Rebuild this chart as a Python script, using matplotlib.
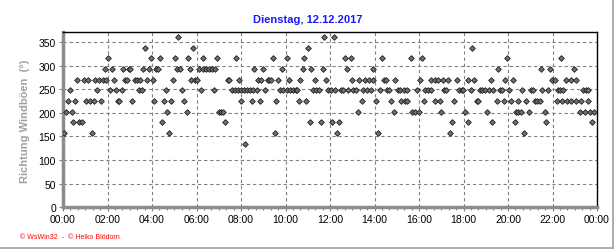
import matplotlib.pyplot as plt
from matplotlib.ticker import MultipleLocator
from matplotlib.lines import Line2D

t_360 = [5.18, 11.74, 12.19]
t_337 = [3.70, 5.86, 11.02, 18.40]
t_315 = [2.04, 3.97, 4.37, 5.05, 5.62, 6.31, 6.92, 7.79, 9.45, 10.07, 10.84,
         12.67, 12.93, 14.35, 15.65, 16.15, 19.97, 22.40]
t_292 = [1.90, 2.22, 2.71, 2.98, 3.01, 3.60, 3.88, 4.19, 4.27, 5.14, 5.26, 5.72,
         6.11, 6.29, 6.43, 6.56, 6.70, 6.84, 8.60, 9.00, 9.86, 10.80, 11.16,
         11.70, 12.78, 13.92, 19.56, 21.47, 21.90, 22.97]
t_270 = [0.64, 0.94, 1.14, 1.45, 1.63, 1.78, 1.92, 2.31, 2.80, 2.89, 3.22, 3.34,
         3.47, 3.78, 4.06, 4.96, 5.77, 5.92, 6.04, 7.40, 7.47, 7.92, 8.78, 8.90,
         9.20, 9.27, 9.35, 9.68, 10.17, 10.67, 11.34, 11.83, 13.00, 13.32, 13.59,
         13.77, 13.95, 14.41, 14.52, 14.93, 16.06, 16.55, 16.71, 16.85, 17.07,
         17.30, 17.72, 18.19, 18.49, 19.25, 19.87, 20.24, 21.98, 22.10, 22.62,
         22.82, 23.07]
t_247 = [0.33, 1.54, 2.13, 2.38, 2.64, 3.42, 3.55, 4.64, 5.36, 6.22, 6.79, 7.60,
         7.73, 7.87, 8.00, 8.13, 8.27, 8.40, 8.54, 8.71, 9.09, 9.75, 9.87, 10.05,
         10.20, 10.35, 10.46, 10.53, 11.24, 11.38, 11.51, 11.92, 12.03, 12.24,
         12.48, 12.60, 12.82, 13.05, 13.18, 13.48, 13.65, 13.83, 14.26, 14.56,
         14.64, 15.06, 15.16, 15.31, 15.46, 15.91, 16.28, 16.40, 16.55, 17.11,
         17.21, 17.81, 17.92, 17.99, 18.32, 18.74, 18.84, 18.97, 19.16, 19.34,
         19.64, 19.74, 20.03, 20.63, 21.03, 21.12, 21.53, 21.80, 22.25, 22.35,
         22.47, 23.37, 23.49, 23.60]
t_225 = [0.24, 0.55, 1.05, 1.23, 1.41, 1.72, 2.49, 2.53, 3.11, 4.10, 4.55, 4.87,
         5.45, 8.01, 8.49, 8.87, 9.59, 10.61, 10.93, 13.42, 14.07, 14.76, 15.20,
         15.36, 15.47, 16.22, 16.73, 16.93, 17.59, 18.59, 18.67, 19.49, 19.82,
         20.13, 20.44, 20.81, 21.23, 21.32, 21.42, 22.22, 22.44, 22.65, 22.84,
         23.07, 23.29, 23.60]
t_202 = [0.13, 0.39, 4.69, 5.56, 7.01, 7.10, 7.19, 13.27, 14.86, 15.69, 15.81,
         15.99, 17.00, 18.07, 19.07, 20.35, 20.46, 20.57, 20.93, 21.65, 23.22,
         23.45, 23.67, 23.85]
t_180 = [0.46, 0.73, 0.84, 4.46, 7.29, 11.11, 11.61, 12.08, 12.42, 17.46, 18.22,
         19.29, 20.33, 21.72, 23.79]
t_157 = [0.04, 1.32, 4.78, 9.54, 12.33, 14.16, 17.39, 20.73]
t_135 = [8.19]

stufen = [360, 337.5, 315, 292.5, 270, 247.5, 225, 202.5, 180, 157.5, 135]
zeiten = [t_360, t_337, t_315, t_292, t_270, t_247, t_225, t_202, t_180, t_157, t_135]

x_ticks = list(range(0, 25, 2))
x_labels = ['%02d:00' % (h % 24) for h in x_ticks]

plt.rcParams['font.family'] = ['Liberation Sans', 'DejaVu Sans']

fig = plt.figure(figsize=(6.16, 2.53), dpi=100)
ax = fig.add_axes([0.1023, 0.1767, 0.8669, 0.6909])

for wert, tl in zip(stufen, zeiten):
    ax.plot(tl, [wert] * len(tl), linestyle='none', marker='D', markersize=2.9,
            markerfacecolor='#707070', markeredgecolor='#202020',
            markeredgewidth=0.6, zorder=3)

ax.set_xlim(0, 24)
ax.set_ylim(0, 370)
ax.set_xticks(x_ticks)
ax.set_xticklabels(x_labels)
ax.xaxis.set_minor_locator(MultipleLocator(1 / 3))
ax.yaxis.set_major_locator(MultipleLocator(50))

ax.grid(True, which='major', color='#808080', linestyle=(0, (3, 2.5)), linewidth=0.8)
ax.tick_params(axis='both', which='major', labelsize=7.5, length=3, width=0.8,
               color='#808080', pad=2)
ax.tick_params(axis='x', which='minor', length=2, width=0.8, color='#808080')

ax.spines['left'].set_color('#8c8c8c')
ax.spines['left'].set_linewidth(2.5)
ax.spines['bottom'].set_color('#8c8c8c')
ax.spines['bottom'].set_linewidth(2.5)
ax.spines['top'].set_color('black')
ax.spines['top'].set_linewidth(1)
ax.spines['right'].set_color('black')
ax.spines['right'].set_linewidth(1)

ax.set_ylabel('Richtung Windböen  (°)', color='#a0a0a0', fontsize=8,
              fontweight='bold', labelpad=6)

fig.text(0.5, 0.92, 'Dienstag, 12.12.2017', color='#1a1aff', fontsize=8,
         fontweight='bold', ha='center', va='center')
fig.text(0.033, 0.06, '© WsWin32  -  © Heiko Blödorn', color='red', fontsize=5,
         ha='left', va='center')

# grauer Rahmen rechts und unten
fig.add_artist(Line2D([0.995, 0.995], [0.015, 1.0], transform=fig.transFigure,
                      color='#a0a0a0', linewidth=1.2))
fig.add_artist(Line2D([0.0, 0.995], [0.015, 0.015], transform=fig.transFigure,
                      color='#a0a0a0', linewidth=1.2))

fig.savefig('out.png', dpi=100)
